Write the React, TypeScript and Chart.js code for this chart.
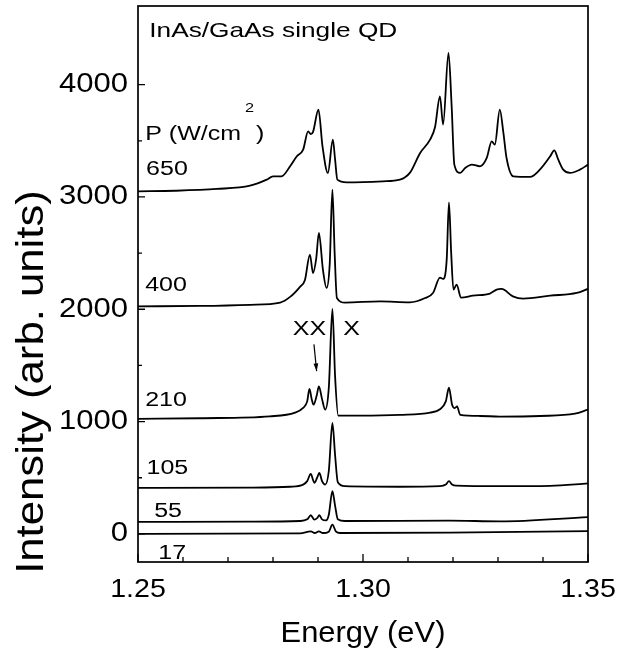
import React, { useEffect, useRef } from "react";
import { Chart, registerables } from "chart.js";

Chart.register(...registerables);

// ---- Spectra (energy in eV, intensity in arb. units, offset already included) ----
const e650 = [1.25, 1.2582, 1.2675, 1.2749, 1.2786, 1.28, 1.2819, 1.2838, 1.2853, 1.2867, 1.2878, 1.2884, 1.2889, 1.2901, 1.291, 1.2922, 1.2933, 1.2938, 1.2943, 1.2964, 1.3044, 1.3082, 1.3104, 1.3127, 1.3149, 1.316, 1.3171, 1.3178, 1.319, 1.3197, 1.3203, 1.3216, 1.3227, 1.3242, 1.326, 1.3275, 1.3286, 1.3293, 1.3304, 1.3312, 1.3319, 1.3334, 1.3371, 1.3393, 1.3416, 1.3425, 1.3434, 1.3445, 1.346, 1.3482, 1.35];
const i650 = [3050, 3055, 3071, 3101, 3154, 3184, 3184, 3273, 3362, 3421, 3584, 3560, 3580, 3777, 3451, 3214, 3510, 3332, 3154, 3130, 3139, 3154, 3214, 3392, 3510, 3620, 3896, 3644, 4282, 3807, 3288, 3214, 3258, 3288, 3273, 3347, 3495, 3466, 3777, 3570, 3347, 3184, 3178, 3243, 3362, 3415, 3332, 3243, 3214, 3243, 3288];

const e400 = [1.25, 1.2638, 1.2749, 1.2816, 1.2838, 1.286, 1.2871, 1.2882, 1.2889, 1.2896, 1.2902, 1.2911, 1.2919, 1.2926, 1.2932, 1.2937, 1.2942, 1.296, 1.3038, 1.3104, 1.3138, 1.3156, 1.3171, 1.3178, 1.3186, 1.3191, 1.3196, 1.3201, 1.3208, 1.3218, 1.3244, 1.3282, 1.3297, 1.3308, 1.3333, 1.3356, 1.3416, 1.3475, 1.35];
const i400 = [2026, 2030, 2040, 2060, 2110, 2200, 2260, 2487, 2323, 2450, 2680, 2350, 2190, 2400, 3065, 2500, 2101, 2060, 2070, 2062, 2100, 2148, 2282, 2270, 2442, 2952, 2500, 2175, 2219, 2103, 2121, 2140, 2175, 2181, 2115, 2095, 2121, 2145, 2181];

const e210 = [1.25, 1.2638, 1.2793, 1.2849, 1.2867, 1.2876, 1.2881, 1.2886, 1.289, 1.2897, 1.2902, 1.2909, 1.2916, 1.2924, 1.2932, 1.2938, 1.2945, 1.2993, 1.3082, 1.3149, 1.3171, 1.3184, 1.3191, 1.3198, 1.3204, 1.3209, 1.3216, 1.326, 1.3304, 1.3393, 1.3471, 1.35];
const i210 = [1024, 1030, 1047, 1080, 1122, 1180, 1291, 1200, 1151, 1230, 1314, 1200, 1107, 1300, 2003, 1400, 1053, 1053, 1060, 1080, 1110, 1180, 1302, 1150, 1120, 1135, 1060, 1050, 1045, 1050, 1070, 1107];

const e105 = [1.25, 1.2749, 1.2838, 1.2867, 1.2876, 1.2884, 1.2889, 1.2892, 1.2898, 1.2903, 1.2909, 1.2916, 1.2924, 1.2932, 1.2938, 1.2944, 1.296, 1.3082, 1.3171, 1.3184, 1.3191, 1.3198, 1.3207, 1.3304, 1.3416, 1.35];
const i105 = [410, 412, 420, 439, 470, 534, 480, 454, 500, 543, 470, 439, 560, 988, 700, 460, 425, 420, 425, 440, 470, 440, 430, 425, 428, 450];

const e55 = [1.25, 1.2749, 1.286, 1.2876, 1.2884, 1.2892, 1.2898, 1.2903, 1.2909, 1.2918, 1.2924, 1.2932, 1.2938, 1.2944, 1.296, 1.3193, 1.3304, 1.35];
const i55 = [107, 110, 115, 130, 166, 127, 140, 166, 130, 120, 170, 380, 250, 130, 115, 118, 112, 150];

const e17 = [1.25, 1.286, 1.2884, 1.2893, 1.2902, 1.2911, 1.2924, 1.2932, 1.294, 1.2949, 1.3193, 1.35];
const i17 = [0, 5, 23, 8, 23, 8, 20, 83, 20, 8, 12, 25];

// ---- Axes ----
const xMin = 1.25;
const xMax = 1.35;
const yMin = -250;
const yMax = 4700;
const xMajorTicks = [1.25, 1.3, 1.35];
const xTickLabels = ["1.25", "1.30", "1.35"];
const xMinorTicks = [1.26, 1.27, 1.28, 1.29, 1.31, 1.32, 1.33, 1.34];
const yMajorTicks = [0, 1000, 2000, 3000, 4000];
const yTickLabels = ["0", "1000", "2000", "3000", "4000"];
const yMinorTicks = [500, 1500, 2500, 3500];
const xTitle = "Energy (eV)";
const yTitle = "Intensity (arb. units)";

// ---- Annotations (text, energy, intensity) ----
const noteTexts = ["InAs/GaAs single QD", "650", "400", "210", "105", "55", "17", "XX", "X"];
const noteE = [1.2525, 1.2518, 1.2516, 1.2516, 1.2519, 1.2536, 1.2545, 1.2844, 1.2956];
const noteI = [4474, 3246, 2210, 1187, 579, 200, -175, 1819, 1819];
const powerLabel = ["P (W/cm", "2", ")"];
const powerE = 1.2516;
const powerI = 3560;
const arrowFrom = [1.2891, 1687];
const arrowTo = [1.2897, 1449];

const FONT = '"Liberation Sans", Arial, Helvetica, sans-serif';

const series = [
  [e650, i650],
  [e400, i400],
  [e210, i210],
  [e105, i105],
  [e55, i55],
  [e17, i17],
];

function drawText(ctx: any, text: string, x: number, y: number, size: number, sx: number, align: string, rot = 0) {
  ctx.save();
  ctx.font = `${size}px ${FONT}`;
  ctx.textBaseline = "middle";
  ctx.textAlign = align;
  ctx.translate(x, y);
  if (rot) ctx.rotate(rot);
  ctx.scale(sx, 1);
  ctx.fillText(text, 0, 0);
  ctx.restore();
}

const framePlugin = {
  id: "frameAndNotes",
  afterDatasetsDraw(chart: any) {
    const { ctx, chartArea, scales } = chart;
    const { left, right, top, bottom } = chartArea;
    const x = scales.x;
    const y = scales.y;
    ctx.save();
    ctx.strokeStyle = "#000";
    ctx.fillStyle = "#000";
    ctx.lineWidth = 1.7;
    ctx.strokeRect(left, top, right - left, bottom - top);
    ctx.lineWidth = 1.3;
    ctx.beginPath();
    xMajorTicks.forEach((v) => {
      const px = x.getPixelForValue(v);
      ctx.moveTo(px, bottom);
      ctx.lineTo(px, bottom - 8);
    });
    xMinorTicks.forEach((v) => {
      const px = x.getPixelForValue(v);
      ctx.moveTo(px, bottom);
      ctx.lineTo(px, bottom - 5);
    });
    yMajorTicks.forEach((v) => {
      const py = y.getPixelForValue(v);
      ctx.moveTo(left, py);
      ctx.lineTo(left + 7, py);
    });
    yMinorTicks.forEach((v) => {
      const py = y.getPixelForValue(v);
      ctx.moveTo(left, py);
      ctx.lineTo(left + 4, py);
    });
    ctx.stroke();

    // Tick labels
    yMajorTicks.forEach((v, i) => {
      drawText(ctx, yTickLabels[i], left - 10, y.getPixelForValue(v), 27, 1.15, "right");
    });
    xMajorTicks.forEach((v, i) => {
      drawText(ctx, xTickLabels[i], x.getPixelForValue(v), bottom + 28, 26, 1.1, "center");
    });
    // Axis titles
    drawText(ctx, xTitle, (left + right) / 2, bottom + 72, 30, 1.03, "center");
    drawText(ctx, yTitle, 33, 382, 38, 1.15, "center", -Math.PI / 2);

    // Annotations
    noteTexts.forEach((t, i) => {
      drawText(ctx, t, x.getPixelForValue(noteE[i]), y.getPixelForValue(noteI[i]), i === 0 ? 21 : 20, 1.25, "left");
    });

    // P (W/cm^2)
    const px0 = x.getPixelForValue(powerE);
    const py0 = y.getPixelForValue(powerI);
    const sx = 1.25;
    drawText(ctx, powerLabel[0], px0, py0, 20, sx, "left");
    ctx.font = "20px " + FONT;
    const w0 = ctx.measureText(powerLabel[0]).width * sx;
    drawText(ctx, powerLabel[1], px0 + w0 + 4, py0 - 26, 13, sx, "left");
    ctx.font = "13px " + FONT;
    const w1 = ctx.measureText(powerLabel[1]).width * sx;
    drawText(ctx, powerLabel[2], px0 + w0 + w1 + 6, py0, 20, sx, "left");

    // Arrow
    const ax0 = x.getPixelForValue(arrowFrom[0]);
    const ay0 = y.getPixelForValue(arrowFrom[1]);
    const ax1 = x.getPixelForValue(arrowTo[0]);
    const ay1 = y.getPixelForValue(arrowTo[1]);
    ctx.lineWidth = 1.2;
    ctx.beginPath();
    ctx.moveTo(ax0, ay0);
    ctx.lineTo(ax1, ay1);
    ctx.stroke();
    const ang = Math.atan2(ay1 - ay0, ax1 - ax0);
    const hl = 8;
    ctx.beginPath();
    ctx.moveTo(ax1, ay1);
    ctx.lineTo(ax1 - hl * Math.cos(ang - 0.3), ay1 - hl * Math.sin(ang - 0.3));
    ctx.lineTo(ax1 - hl * Math.cos(ang + 0.3), ay1 - hl * Math.sin(ang + 0.3));
    ctx.closePath();
    ctx.fill();
    ctx.restore();
  },
};

export default function App() {
  const ref = useRef<HTMLCanvasElement | null>(null);
  useEffect(() => {
    document.body.style.margin = "0";
    const canvas = ref.current;
    if (!canvas) return;
    const chart = new Chart(canvas, {
      type: "line",
      data: {
        datasets: series.map(([es, is]) => ({
          data: es.map((e, k) => ({ x: e, y: is[k] })),
          borderColor: "#000",
          borderWidth: 1.8,
          pointRadius: 0,
          cubicInterpolationMode: "monotone",
          fill: false,
        })),
      },
      options: {
        responsive: false,
        animation: false,
        layout: { padding: { top: 6, right: 29, left: 0, bottom: 0 } },
        plugins: { legend: { display: false }, tooltip: { enabled: false } },
        scales: {
          x: {
            type: "linear",
            min: xMin,
            max: xMax,
            grid: { display: false },
            border: { display: false },
            ticks: { display: false },
            afterFit: (s: any) => {
              s.height = 94;
            },
          },
          y: {
            type: "linear",
            min: yMin,
            max: yMax,
            grid: { display: false },
            border: { display: false },
            ticks: { display: false },
            afterFit: (s: any) => {
              s.width = 138;
            },
          },
        },
      },
      plugins: [framePlugin],
    });
    return () => chart.destroy();
  }, []);
  return <canvas ref={ref} width={617} height={656} style={{ display: "block" }} />;
}
